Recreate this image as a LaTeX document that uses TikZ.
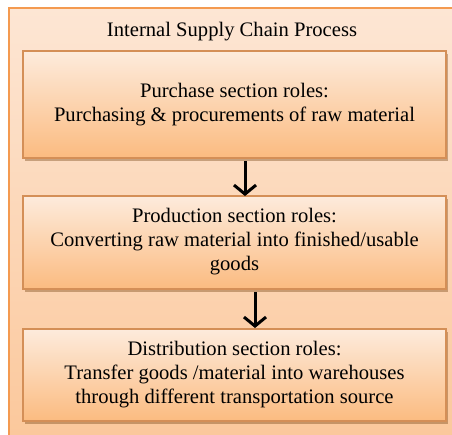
\documentclass[tikz,border=0pt]{standalone}
\usepackage{fontspec}
\setmainfont{Liberation Serif}
\usetikzlibrary{shadows,arrows.meta}
\definecolor{bordc}{HTML}{F49A50}
\definecolor{outtop}{HTML}{FDE6D4}
\definecolor{outbot}{HTML}{FBC79A}
\definecolor{intop}{HTML}{FDEBDC}
\definecolor{inbot}{HTML}{FBBB80}
\tikzset{
  outerbox/.style={draw=bordc, line width=1.6pt, top color=outtop, bottom color=outbot},
  rolebox/.style={draw=bordc!85!black!90, line width=1.2pt, top color=intop, bottom color=inbot,
    drop shadow={shadow xshift=1.5pt, shadow yshift=-2.5pt, opacity=0.35, fill=black!60!orange}},
  roletext/.style={align=center, font=\fontsize{20.6}{24}\selectfont, text=black},
  flowarrow/.style={-{Straight Barb[length=9pt,width=22pt,line width=3pt]}, line width=3pt, black}
}
\begin{document}
\begin{tikzpicture}[x=1pt,y=-1pt]
\useasboundingbox (0,0) rectangle (452,434);
\fill[white] (0,0) rectangle (452,434);
\draw[outerbox] (9,8) rectangle (470,450);
\node[roletext] (title) at (232,32) {Internal Supply Chain Process};
\draw[rolebox] (23,51) rectangle (446,158);
\node[roletext] (p) at (234.5,105) {Purchase section roles:\\Purchasing \& procurements of raw material};
\draw[rolebox] (23,196) rectangle (446,289);
\node[roletext] (q) at (234.5,242) {Production section roles:\\Converting raw material into finished/usable\\goods};
\draw[rolebox] (23,329) rectangle (446,421);
\node[roletext] (r) at (234.5,375) {Distribution section roles:\\Transfer goods /material into warehouses\\through different transportation source};
\coordinate (a1s) at (245,161);
\coordinate (a1e) at (245,196);
\coordinate (a2s) at (255,292);
\coordinate (a2e) at (255,328);
\draw[flowarrow] (a1s) -- (a1e);
\draw[flowarrow] (a2s) -- (a2e);
\end{tikzpicture}
\end{document}
